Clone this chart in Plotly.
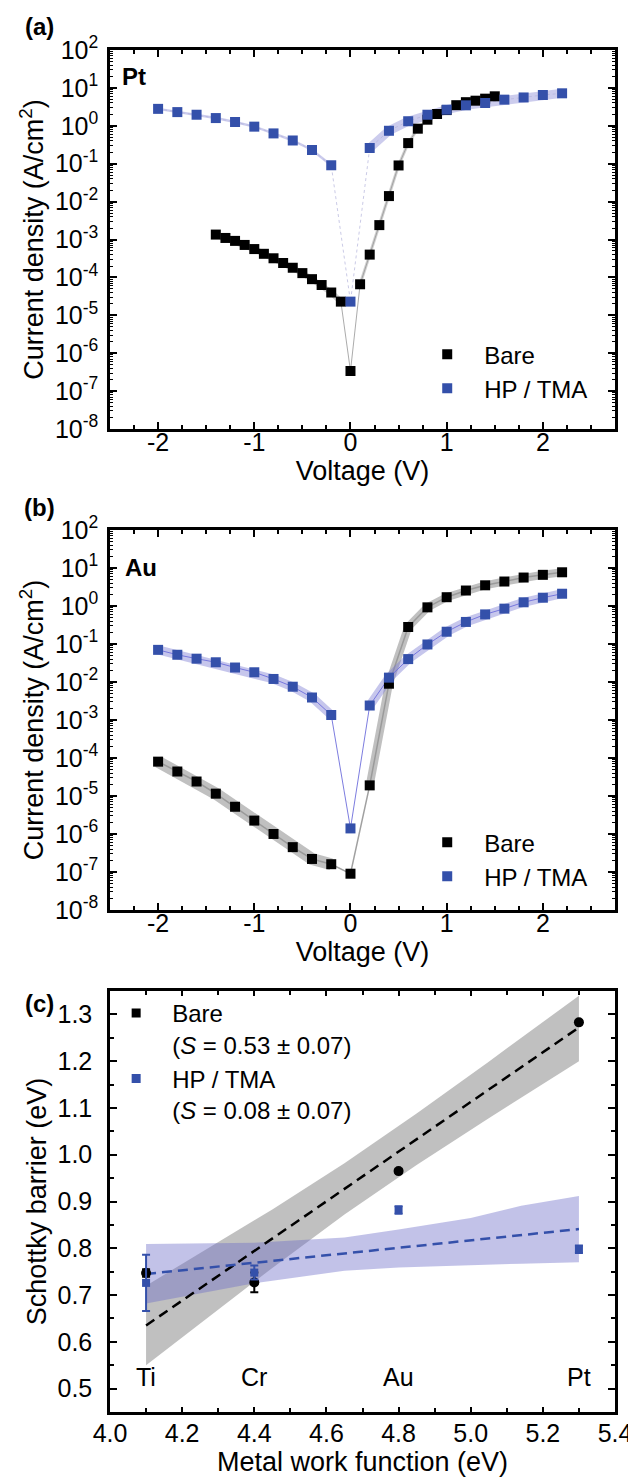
import numpy as np
import plotly.graph_objects as go

# ---------------- data ----------------
# (a) Pt contacts: current density (A/cm^2) vs voltage (V)
pt_bare_v = [-1.4, -1.3, -1.2, -1.1, -1.0, -0.9, -0.8, -0.7, -0.6, -0.5, -0.4, -0.3, -0.2, -0.1,
             0.0, 0.1, 0.2, 0.3, 0.4, 0.5, 0.6, 0.7, 0.8, 0.9, 1.0, 1.1, 1.2, 1.3, 1.4, 1.5]
pt_bare_j = [1.35e-3, 1.1e-3, 9.2e-4, 7.2e-4, 5.6e-4, 4.2e-4, 3.2e-4, 2.4e-4, 1.8e-4, 1.3e-4, 9.0e-5, 6.3e-5, 4.0e-5, 2.3e-5,
             3.4e-7, 6.6e-5, 4.0e-4, 2.4e-3, 1.4e-2, 9.0e-2, 0.35, 0.84, 1.45, 2.05, 2.6, 3.5, 4.2, 4.6, 5.2, 6.0]
pt_hp_v = [-2.0, -1.8, -1.6, -1.4, -1.2, -1.0, -0.8, -0.6, -0.4, -0.2, 0.0,
           0.2, 0.4, 0.6, 0.8, 1.0, 1.2, 1.4, 1.6, 1.8, 2.0, 2.2]
pt_hp_j = [2.8, 2.3, 1.96, 1.6, 1.26, 0.95, 0.63, 0.41, 0.23, 0.091, 2.3e-5,
           0.26, 0.74, 1.32, 1.96, 2.66, 3.47, 4.0, 4.9, 5.6, 6.5, 7.2]

# (b) Au contacts
au_v = [-2.0, -1.8, -1.6, -1.4, -1.2, -1.0, -0.8, -0.6, -0.4, -0.2, 0.0,
        0.2, 0.4, 0.6, 0.8, 1.0, 1.2, 1.4, 1.6, 1.8, 2.0, 2.2]
au_bare_j = [8.0e-5, 4.4e-5, 2.4e-5, 1.15e-5, 5.2e-6, 2.25e-6, 1.0e-6, 4.5e-7, 2.2e-7, 1.6e-7, 9.0e-8,
             1.9e-5, 9.0e-3, 0.28, 0.92, 1.7, 2.55, 3.5, 4.4, 5.6, 6.6, 7.7]
au_hp_j = [0.07, 0.052, 0.041, 0.033, 0.024, 0.018, 0.012, 7.5e-3, 3.9e-3, 1.35e-3, 1.4e-6,
           2.4e-3, 0.013, 0.04, 0.097, 0.21, 0.38, 0.6, 0.85, 1.25, 1.65, 2.1]

# (c) Schottky barrier vs metal work function
metals = ["Ti", "Cr", "Au", "Pt"]
work_function = [4.1, 4.4, 4.8, 5.3]
bare_phi = [0.747, 0.727, 0.965, 1.283]
bare_err = [0.008, 0.021, 0.004, 0.004]
hp_phi = [0.726, 0.748, 0.882, 0.798]
hp_err = [0.06, 0.015, 0.008, 0.008]

fit_x = [4.1, 5.3]
bare_fit = [0.635, 1.272]
hp_fit = [0.745, 0.841]

bare_band_x = [4.1, 4.25, 4.45, 4.65, 4.85, 5.05, 5.3]
bare_band_lo = [0.55, 0.64, 0.758, 0.872, 0.978, 1.078, 1.20]
bare_band_hi = [0.72, 0.79, 0.883, 0.982, 1.088, 1.199, 1.34]
hp_band_x = [4.1, 4.4, 4.65, 4.8, 5.0, 5.14, 5.3]
hp_band_lo = [0.682, 0.725, 0.752, 0.759, 0.764, 0.767, 0.770]
hp_band_hi = [0.809, 0.812, 0.823, 0.840, 0.865, 0.891, 0.912]

# tick labels
v_ticks = [-2, -1, 0, 1, 2]
v_ticktext = ["-2", "-1", "0", "1", "2"]
exps = list(range(-8, 3))
j_ticks = [10.0 ** e for e in exps]
j_ticktext = ["10<sup>%d</sup>" % e for e in exps]
wf_ticks = [4.0, 4.2, 4.4, 4.6, 4.8, 5.0, 5.2, 5.4]
phi_ticks = [0.5, 0.6, 0.7, 0.8, 0.9, 1.0, 1.1, 1.2, 1.3]

# ---------------- style ----------------
FONT = "Liberation Sans, Arial, sans-serif"
BLUE = "#3450AA"
BLACK = "#000000"

fig = go.Figure()


def add_iv(xa, ya, v, j, band_color, w_neg, w_pos, link):
    v = np.asarray(v)
    j = np.asarray(j)
    for mask, w in ((v < 0, w_neg), (v > 0, w_pos)):
        fig.add_trace(go.Scatter(x=v[mask], y=j[mask], mode="lines", xaxis=xa, yaxis=ya,
                                 line=dict(color=band_color, width=w), showlegend=False,
                                 hoverinfo="skip"))
    fig.add_trace(go.Scatter(x=v, y=j, mode="lines", xaxis=xa, yaxis=ya,
                             line=link, showlegend=False, hoverinfo="skip"))


def add_pts(xa, ya, v, j, color, name, legend):
    fig.add_trace(go.Scatter(x=v, y=j, mode="markers", xaxis=xa, yaxis=ya, name=name,
                             marker=dict(symbol="square", size=10, color=color),
                             legend=legend))


# (a)
add_iv("x", "y", pt_bare_v, pt_bare_j, "rgba(150,150,150,0.45)", 6, 3,
       dict(color="rgba(150,150,150,0.8)", width=1))
add_iv("x", "y", pt_hp_v, pt_hp_j, "rgba(170,170,225,0.6)", 2.5, 9,
       dict(color="rgba(180,180,220,0.7)", width=1, dash="dot"))
add_pts("x", "y", pt_bare_v, pt_bare_j, BLACK, "Bare", "legend")
add_pts("x", "y", pt_hp_v, pt_hp_j, BLUE, "HP / TMA", "legend")

# (b)
add_iv("x2", "y2", au_v, au_bare_j, "rgba(140,140,140,0.55)", 12, 8,
       dict(color="rgba(150,150,150,0.9)", width=1.5))
add_iv("x2", "y2", au_v, au_hp_j, "rgba(120,120,210,0.42)", 9, 9,
       dict(color="rgba(110,110,220,0.9)", width=1))
add_pts("x2", "y2", au_v, au_bare_j, BLACK, "Bare", "legend2")
add_pts("x2", "y2", au_v, au_hp_j, BLUE, "HP / TMA", "legend2")

# (c) confidence bands
fig.add_trace(go.Scatter(x=bare_band_x + bare_band_x[::-1], y=bare_band_hi + bare_band_lo[::-1],
                         fill="toself", fillcolor="rgba(130,130,130,0.5)", line=dict(width=0),
                         mode="lines", xaxis="x3", yaxis="y3", showlegend=False, hoverinfo="skip"))
fig.add_trace(go.Scatter(x=hp_band_x + hp_band_x[::-1], y=hp_band_hi + hp_band_lo[::-1],
                         fill="toself", fillcolor="rgba(110,110,200,0.42)", line=dict(width=0),
                         mode="lines", xaxis="x3", yaxis="y3", showlegend=False, hoverinfo="skip"))
fig.add_trace(go.Scatter(x=fit_x, y=bare_fit, mode="lines", xaxis="x3", yaxis="y3",
                         line=dict(color=BLACK, width=2.5, dash="10px,6px"), showlegend=False))
fig.add_trace(go.Scatter(x=fit_x, y=hp_fit, mode="lines", xaxis="x3", yaxis="y3",
                         line=dict(color=BLUE, width=2.5, dash="10px,6px"), showlegend=False))
fig.add_trace(go.Scatter(x=work_function, y=bare_phi, mode="markers", xaxis="x3", yaxis="y3",
                         marker=dict(symbol="circle", size=10, color=BLACK),
                         error_y=dict(type="data", array=bare_err, color=BLACK, thickness=2, width=4),
                         showlegend=False))
fig.add_trace(go.Scatter(x=work_function, y=hp_phi, mode="markers", xaxis="x3", yaxis="y3",
                         marker=dict(symbol="square", size=8, color=BLUE),
                         error_y=dict(type="data", array=hp_err, color=BLUE, thickness=2, width=4),
                         showlegend=False))
# legend entries for (c)
fig.add_trace(go.Scatter(x=[None], y=[None], mode="markers", xaxis="x3", yaxis="y3",
                         marker=dict(symbol="square", size=9, color=BLACK),
                         name="Bare<br>(<i>S</i> = 0.53 ± 0.07)", legend="legend3"))
fig.add_trace(go.Scatter(x=[None], y=[None], mode="markers", xaxis="x3", yaxis="y3",
                         marker=dict(symbol="square", size=9, color=BLUE),
                         name="HP / TMA<br>(<i>S</i> = 0.08 ± 0.07)", legend="legend3"))

# ---------------- layout ----------------
tickfont = dict(family=FONT, size=25, color="black")
titlefont = dict(family=FONT, size=27, color="black")
legfont = dict(family=FONT, size=24, color="black")
common = dict(showline=True, linewidth=2.5, linecolor="black", mirror="ticks",
              ticks="inside", ticklen=7, tickwidth=2, tickcolor="black",
              showgrid=False, zeroline=False, tickfont=tickfont)

v_minor = list(np.arange(-2.5, 2.76, 0.25))
j_minor = [m * 10.0 ** e for e in exps[:-1] for m in range(2, 10)]


def v_axis(anchor, title):
    return dict(common, anchor=anchor, domain=[0, 1], range=[-2.5, 2.75],
                tickmode="array", tickvals=v_ticks, ticktext=v_ticktext,
                minor=dict(tickmode="array", tickvals=v_minor, ticks="inside", ticklen=4,
                           tickwidth=1.5, tickcolor="black"),
                ticklabelstandoff=-11,
                title=dict(text=title, font=titlefont, standoff=0))


def j_axis(anchor, dom):
    return dict(common, anchor=anchor, domain=dom, type="log", range=[-8, 2],
                tickmode="array", tickvals=j_ticks, ticktext=j_ticktext,
                minor=dict(tickmode="array", tickvals=j_minor, ticks="inside", ticklen=3,
                           tickwidth=1.2, tickcolor="black"),
                ticklabelstandoff=4,
                title=dict(text="Current density (A/cm<sup>2</sup>)", font=titlefont, standoff=4))


fig.update_layout(
    width=636, height=1477,
    margin=dict(l=102, r=21, t=42, b=73),
    paper_bgcolor="white", plot_bgcolor="white",
    font=dict(family=FONT, color="black"),
    xaxis=v_axis("y", "Voltage (V)"),
    yaxis=j_axis("x", [0.7217, 1.0]),
    xaxis2=v_axis("y2", "Voltage (V)"),
    yaxis2=j_axis("x2", [0.3686, 0.6476]),
    xaxis3=dict(common, anchor="y3", domain=[0, 1], range=[4.0, 5.4],
                tickmode="array", tickvals=wf_ticks, ticktext=["%.1f" % t for t in wf_ticks],
                ticklen=5,
                minor=dict(tickmode="array", tickvals=list(np.arange(4.1, 5.35, 0.2)),
                           ticks="inside", ticklen=4, tickwidth=2, tickcolor="black"),
                ticklabelstandoff=-3,
                title=dict(text="Metal work function (eV)", font=titlefont, standoff=2)),
    xaxis4=dict(overlaying="x3", anchor="y3", range=[4.0, 5.4], side="bottom",
                tickmode="array", tickvals=work_function, ticks="inside", ticklen=19,
                tickwidth=2, tickcolor="black", showticklabels=False, showline=False,
                showgrid=False, zeroline=False),
    yaxis3=dict(common, anchor="x3", domain=[0, 0.3091], range=[0.45, 1.35],
                tickmode="array", tickvals=phi_ticks, ticktext=["%.1f" % t for t in phi_ticks],
                minor=dict(tickmode="array", tickvals=list(np.arange(0.55, 1.35, 0.1)),
                           ticks="inside", ticklen=4, tickwidth=1.5, tickcolor="black"),
                ticklabelstandoff=10,
                title=dict(text="Schottky barrier (eV)", font=titlefont, standoff=4)),
    legend=dict(x=0.5945, y=0.7929, xanchor="left", yanchor="top", bgcolor="rgba(0,0,0,0)",
                font=legfont, tracegroupgap=0, itemwidth=64),
    legend2=dict(x=0.5945, y=0.4346, xanchor="left", yanchor="top", bgcolor="rgba(0,0,0,0)",
                 font=legfont, tracegroupgap=0, itemwidth=64),
    legend3=dict(x=-0.0195, y=0.3091, xanchor="left", yanchor="top", bgcolor="rgba(0,0,0,0)",
                 font=legfont, tracegroupgap=0, valign="top", itemwidth=62),
)

annos = [
    dict(text="<b>(a)</b>", x=30, y=18),
    dict(text="<b>(b)</b>", x=30, y=500),
    dict(text="<b>(c)</b>", x=30, y=995),
    dict(text="<b>Pt</b>", x=126, y=68),
    dict(text="<b>Au</b>", x=133, y=560),
]
for a in annos:
    fig.add_annotation(text=a["text"], x=(a["x"] - 102) / 513, y=(1404 - a["y"]) / 1362,
                       xref="paper", yref="paper", showarrow=False,
                       font=dict(family=FONT, size=24, color="black"),
                       xanchor="center", yanchor="middle")
for m, w in zip(metals, work_function):
    fig.add_annotation(text=m, x=w, y=0.525, xref="x3", yref="y3", showarrow=False,
                       font=dict(family=FONT, size=25, color="black"),
                       xanchor="center", yanchor="middle")

fig.write_html("out.html")
